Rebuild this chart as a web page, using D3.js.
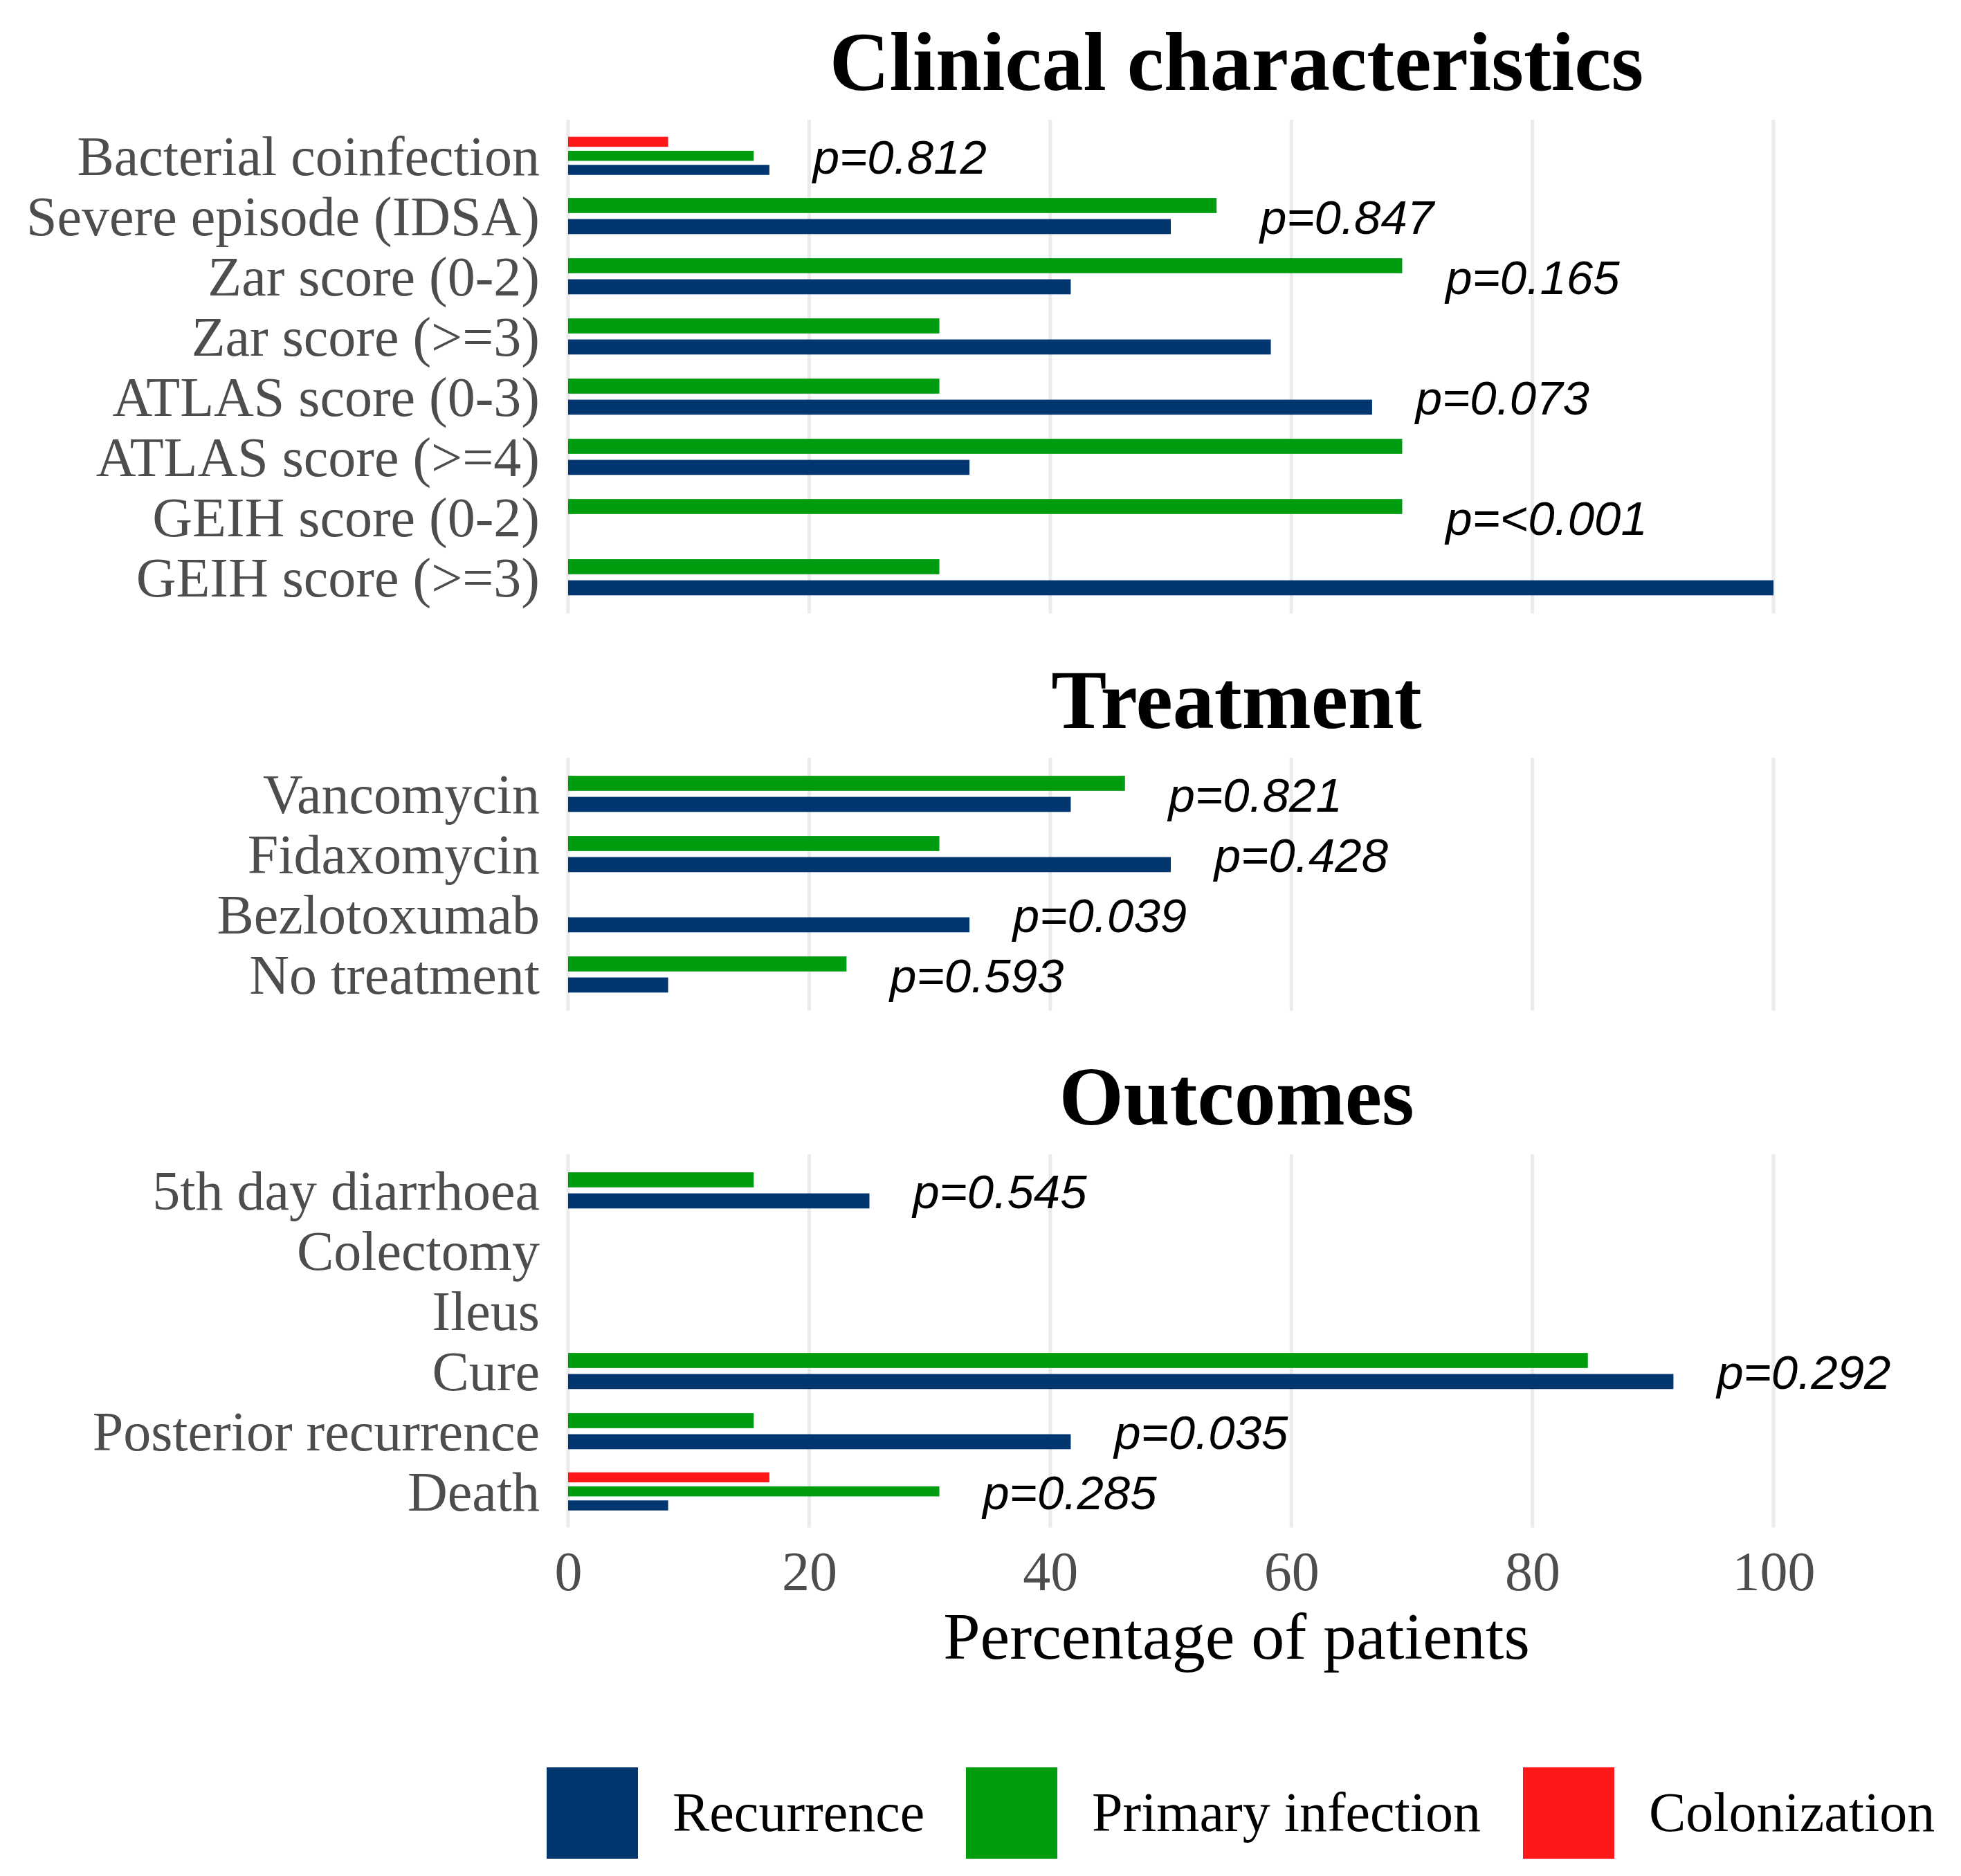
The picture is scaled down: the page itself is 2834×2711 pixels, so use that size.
<!DOCTYPE html>
<html>
<head>
<meta charset="utf-8">
<script src="https://cdn.jsdelivr.net/npm/d3@7"></script>
<style>
  body { margin: 0; background: #fff; }
  svg { display: block; }
</style>
</head>
<body>
<svg id="canvas"></svg>
<script>
// series / legend
const SERIES = ["Recurrence", "Primary infection", "Colonization"];
const COLORS = ["#023670", "#009C10", "#FF1818"];

// panel titles
const PANELS = ["Clinical characteristics", "Treatment", "Outcomes"];

// Clinical characteristics
const clinicalCategories = ["Bacterial coinfection", "Severe episode (IDSA)", "Zar score (0-2)", "Zar score (>=3)",
  "ATLAS score (0-3)", "ATLAS score (>=4)", "GEIH score (0-2)", "GEIH score (>=3)"];
const clinicalRecurrence = [16.7, 50.0, 41.7, 58.3, 66.7, 33.3, 0, 100];
const clinicalPrimary = [15.4, 53.8, 69.2, 30.8, 30.8, 69.2, 69.2, 30.8];
const clinicalColonization = [8.3, null, null, null, null, null, null, null];
const clinicalP = ["p=0.812", "p=0.847", "p=0.165", "", "p=0.073", "", "p=<0.001", ""];

// Treatment
const treatmentCategories = ["Vancomycin", "Fidaxomycin", "Bezlotoxumab", "No treatment"];
const treatmentRecurrence = [41.7, 50.0, 33.3, 8.3];
const treatmentPrimary = [46.2, 30.8, 0, 23.1];
const treatmentColonization = [null, null, null, null];
const treatmentP = ["p=0.821", "p=0.428", "p=0.039", "p=0.593"];

// Outcomes
const outcomeCategories = ["5th day diarrhoea", "Colectomy", "Ileus", "Cure", "Posterior recurrence", "Death"];
const outcomeRecurrence = [25.0, 0, 0, 91.7, 41.7, 8.3];
const outcomePrimary = [15.4, 0, 0, 84.6, 15.4, 30.8];
const outcomeColonization = [null, null, null, null, null, 16.7];
const outcomeP = ["p=0.545", "", "", "p=0.292", "p=0.035", "p=0.285"];

// x axis
const xTicks = [0, 20, 40, 60, 80, 100];
const xTitle = "Percentage of patients";

const W = 2834, H = 2711;
const serif = "'Liberation Serif', 'Times New Roman', serif";
const sans = "'Liberation Sans', Arial, sans-serif";

let svg = d3.select('#canvas').attr('width', W).attr('height', H);
svg.append('rect').attr('width', W).attr('height', H).attr('fill', '#fff');

let x = d3.scaleLinear().domain([0, 100]).range([821, 2563]);
let plotRight = 2773;
let titleX = (x(0) + plotRight) / 2 - 10;
let band = 87;

let color = d3.scaleOrdinal().domain(SERIES).range(COLORS);

let panelData = [
  {title: PANELS[0], cats: clinicalCategories, rec: clinicalRecurrence, pri: clinicalPrimary, col: clinicalColonization, p: clinicalP, top: 173},
  {title: PANELS[1], cats: treatmentCategories, rec: treatmentRecurrence, pri: treatmentPrimary, col: treatmentColonization, p: treatmentP, top: 1095},
  {title: PANELS[2], cats: outcomeCategories, rec: outcomeRecurrence, pri: outcomePrimary, col: outcomeColonization, p: outcomeP, top: 1668}
];

panelData.forEach(panel => {
  let n = panel.cats.length;
  let bottom = panel.top + (n + 0.2) * band;

  let y = d3.scaleBand()
    .domain(panel.cats)
    .range([panel.top, bottom])
    .paddingInner(0)
    .paddingOuter(0.1);

  let g = svg.append('g');

  // title
  g.append('text')
    .attr('x', titleX)
    .attr('y', panel.top - 43)
    .attr('text-anchor', 'middle')
    .style('font-family', serif)
    .style('font-weight', 'bold')
    .style('font-size', '120px')
    .attr('fill', '#000')
    .text(panel.title);

  // vertical gridlines
  g.selectAll('.grid')
    .data(xTicks)
    .enter()
    .append('line')
    .attr('x1', d => x(d))
    .attr('x2', d => x(d))
    .attr('y1', panel.top)
    .attr('y2', bottom)
    .attr('stroke', '#EBEBEB')
    .attr('stroke-width', 5);

  // category labels
  let yAxis = g.append('g')
    .attr('transform', 'translate(' + x(0) + ',0)')
    .call(d3.axisLeft(y).tickSize(0).tickPadding(41));
  yAxis.select('.domain').remove();
  yAxis.selectAll('text')
    .attr('dy', '0.35em')
    .style('font-family', serif)
    .style('font-size', '80px')
    .attr('fill', '#4D4D4D');

  // bars
  let rows = panel.cats.map((c, i) => {
    let vals = [
      {series: SERIES[2], value: panel.col[i]},
      {series: SERIES[1], value: panel.pri[i]},
      {series: SERIES[0], value: panel.rec[i]}
    ].filter(v => v.value !== null);
    return {cat: c, vals: vals, p: panel.p[i]};
  });

  let groups = g.selectAll('.cat')
    .data(rows)
    .enter()
    .append('g')
    .attr('transform', d => 'translate(0,' + y(d.cat) + ')');

  groups.each(function (row) {
    let inner = d3.scaleBand()
      .domain(row.vals.map(v => v.series))
      .range([0.15 * band, 0.85 * band])
      .paddingInner(2 / 7)
      .paddingOuter(1 / 7);

    d3.select(this).selectAll('rect')
      .data(row.vals)
      .enter()
      .append('rect')
      .attr('x', x(0))
      .attr('y', v => inner(v.series))
      .attr('width', v => x(v.value) - x(0))
      .attr('height', inner.bandwidth())
      .attr('fill', v => color(v.series));

    if (row.p) {
      let maxVal = d3.max(row.vals, v => v.value);
      d3.select(this).append('text')
        .attr('x', x(maxVal + 3.6))
        .attr('y', band / 2 + 26)
        .style('font-family', sans)
        .style('font-style', 'italic')
        .style('font-size', '69px')
        .attr('fill', '#000')
        .text(row.p);
    }
  });
});

// x axis tick labels
let xAxis = svg.append('g')
  .attr('transform', 'translate(0,2298)')
  .call(d3.axisBottom(x).tickValues(xTicks).tickSize(0).tickFormat(d3.format('d')));
xAxis.select('.domain').remove();
xAxis.selectAll('text')
  .attr('y', 0)
  .attr('dy', 0)
  .style('font-family', serif)
  .style('font-size', '80px')
  .attr('fill', '#4D4D4D');

// x axis title
svg.append('text')
  .attr('x', titleX)
  .attr('y', 2397)
  .attr('text-anchor', 'middle')
  .style('font-family', serif)
  .style('font-size', '96px')
  .attr('fill', '#000')
  .text(xTitle);

// legend
let legendX = [790, 1396, 2201];
let legend = svg.selectAll('.legend')
  .data(SERIES)
  .enter()
  .append('g')
  .attr('transform', (d, i) => 'translate(' + legendX[i] + ',2554)');

legend.append('rect')
  .attr('width', 132)
  .attr('height', 132)
  .attr('fill', d => color(d));

legend.append('text')
  .attr('x', 182)
  .attr('y', 92)
  .style('font-family', serif)
  .style('font-size', '80px')
  .attr('fill', '#000')
  .text(d => d);
</script>
</body>
</html>
